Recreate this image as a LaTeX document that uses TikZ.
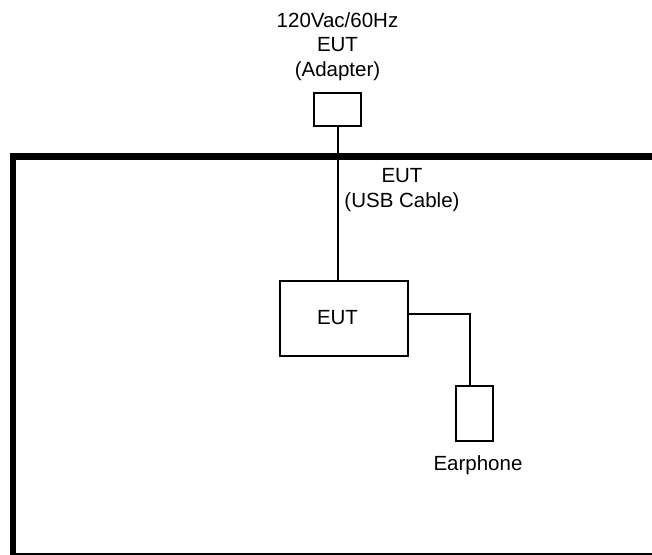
\documentclass[tikz,border=0pt]{standalone}
\usepackage{fontspec}
\setmainfont{Liberation Sans}
\usetikzlibrary{positioning}
\tikzset{
	unit/.style={rectangle, draw, line width=2pt, inner sep=0pt},
	cable/.style={line width=2pt},
	tag/.style={font=\fontsize{20.5}{24.5}\selectfont, align=center, inner sep=0pt},
	tableline/.style={line width=6.5pt}
}

\begin{document}
\begin{tikzpicture}[x=1pt, y=-1pt]
		\useasboundingbox (0,0) rectangle (652,554);
		
		% Table outline
		\draw[tableline] (13,156.5) rectangle (680,556);
		
		% Units
		\node[unit, minimum width=47pt, minimum height=33pt] (Adapter) at (337.5,109.5) {};
		\node[unit, minimum width=128pt, minimum height=75pt] (EUT) at (344,318.5) {};
		\node[unit, minimum width=37pt, minimum height=55pt] (Earphone) at (474.5,413.5) {};
		
		% Labels
		\node[tag] (AdapterTag) at (337.5,46.5) {120Vac/60Hz\\EUT\\(Adapter)};
		\node[tag] (CableTag) at (402,190) {EUT\\(USB Cable)};
		\node[tag] (EUTTag) at (337.5,318) {EUT};
		\node[tag, anchor=base] (EarphoneTag) at (478,470.5) {Earphone};
		
		% Cables
		\draw[cable] (Adapter) -- (Adapter |- EUT.north);               % adapter -> EUT
		\draw[cable] ([yshift=4.5pt]EUT.east) -| ([xshift=-4.5pt]Earphone.north); % EUT -> earphone
		
	\end{tikzpicture}
\end{document}
